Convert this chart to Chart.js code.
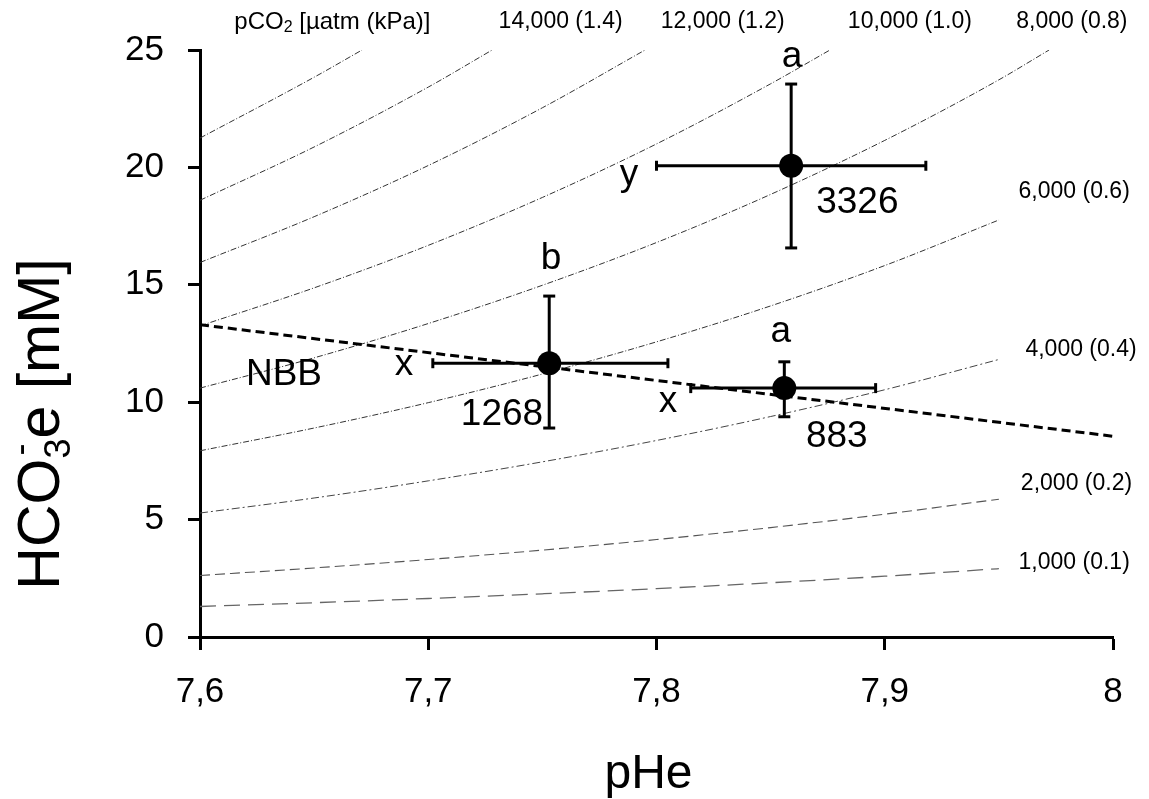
<!DOCTYPE html>
<html>
<head>
<meta charset="utf-8">
<script src="https://cdn.jsdelivr.net/npm/chart.js@4.4.1/dist/chart.umd.min.js"></script>
<style>
  html, body { margin: 0; padding: 0; background: #fff; }
  #wrap { width: 1149px; height: 799px; position: relative; }
</style>
</head>
<body>
<div id="wrap"><canvas id="c"></canvas></div>
<script>
// ---- data ----
const xTickLabels = ['7,6', '7,7', '7,8', '7,9', '8'];

// pCO2 isopleths (HCO3e mM vs pHe)
const phGrid  = [7.60, 7.65, 7.70, 7.75, 7.80, 7.85, 7.90, 7.95];
const iso1000 = [1.30, 1.46, 1.64, 1.84, 2.06, 2.31, 2.59, 2.91];
const iso2000 = [2.62, 2.94, 3.30, 3.70, 4.15, 4.66, 5.23, 5.87];
const iso4000 = [5.28, 5.92, 6.65, 7.46, 8.37, 9.39, 10.53, 11.82];
const iso6000 = [7.93, 8.90, 9.98, 11.20, 12.57, 14.10, 15.82, 17.76];
const iso8000pH  = [7.60, 7.65, 7.70, 7.75, 7.80, 7.85, 7.90, 7.95, 7.972];
const iso8000    = [10.60, 11.89, 13.35, 14.98, 16.80, 18.85, 21.15, 23.73, 25.0];
const iso10000pH = [7.60, 7.65, 7.70, 7.75, 7.80, 7.85, 7.876];
const iso10000   = [13.25, 14.87, 16.68, 18.72, 21.00, 23.56, 25.0];
const iso12000pH = [7.60, 7.65, 7.70, 7.75, 7.795];
const iso12000   = [15.95, 17.90, 20.08, 22.54, 25.0];
const iso14000pH = [7.60, 7.65, 7.70, 7.728];
const iso14000   = [18.60, 20.87, 23.42, 25.0];
const iso16000pH = [7.60, 7.65, 7.671];
const iso16000   = [21.25, 23.84, 25.0];

// non-bicarbonate buffer line
const nbbPH = [7.6, 8.0];
const nbb   = [13.3, 8.55];

// group means with error bars
const ptPH     = [7.753, 7.856, 7.859];
const ptHCO3   = [11.66, 10.60, 20.07];
const phLow    = [7.702, 7.815, 7.800];
const phHigh   = [7.805, 7.896, 7.918];
const hco3Low  = [8.90, 9.38, 16.57];
const hco3High = [14.52, 11.72, 23.55];

// ---- chart ----
const FONT = "'Liberation Sans', Arial, Helvetica, sans-serif";
Chart.defaults.font.family = FONT;
Chart.defaults.color = '#000';

function curve(phs, vals, dash, color, width) {
  return {
    data: phs.map((p, i) => ({ x: p, y: vals[i] })),
    borderColor: color, borderWidth: width, borderDash: dash,
    pointRadius: 0, cubicInterpolationMode: 'monotone', fill: false, order: 5
  };
}
const thin = [6, 2, 1, 2];
const datasets = [
  curve(phGrid, iso1000, [16, 8], '#666', 1.3),
  curve(phGrid, iso2000, [10, 5], '#555', 1.1),
  curve(phGrid, iso4000, [8, 3, 2, 3], '#444', 1),
  curve(phGrid, iso6000, thin, '#333', 1),
  curve(iso8000pH, iso8000, thin, '#333', 1),
  curve(iso10000pH, iso10000, thin, '#333', 1),
  curve(iso12000pH, iso12000, thin, '#333', 1),
  curve(iso14000pH, iso14000, thin, '#333', 1),
  curve(iso16000pH, iso16000, thin, '#333', 1),
  {
    data: nbbPH.map((p, i) => ({ x: p, y: nbb[i] })),
    borderColor: '#000', borderWidth: 3, borderDash: [9, 5],
    pointRadius: 0, fill: false, order: 3
  }
];
// error bars: horizontal (caps rotated 90) and vertical
ptPH.forEach((p, i) => {
  datasets.push({
    data: [{ x: phLow[i], y: ptHCO3[i] }, { x: phHigh[i], y: ptHCO3[i] }],
    borderColor: '#000', borderWidth: 3, pointStyle: 'line', pointRadius: 5,
    pointRotation: 90, pointBorderColor: '#000', pointBorderWidth: 3, order: 1
  });
  datasets.push({
    data: [{ x: p, y: hco3Low[i] }, { x: p, y: hco3High[i] }],
    borderColor: '#000', borderWidth: 3, pointStyle: 'line', pointRadius: 6,
    pointRotation: 0, pointBorderColor: '#000', pointBorderWidth: 3, order: 1
  });
});
datasets.push({
  data: ptPH.map((p, i) => ({ x: p, y: ptHCO3[i] })),
  showLine: false, pointRadius: 12, pointBackgroundColor: '#000',
  pointBorderColor: '#000', pointBorderWidth: 0, order: 0
});

// text placed in data units
const annotations = [
  ['a', 7.8594, 24.26], ['y', 7.788, 19.25], ['3326', 7.888, 18.06],
  ['b', 7.7538, 15.67], ['x', 7.6894, 11.16], ['NBB', 7.6368, 10.73],
  ['1268', 7.7323, 9.03], ['a', 7.8545, 12.56], ['x', 7.805, 9.58],
  ['883', 7.879, 8.09]
];
const isoLabels = [
  ['14,000 (1.4)', 7.758, 26.19], ['12,000 (1.2)', 7.829, 26.19],
  ['10,000 (1.0)', 7.911, 26.19], ['8,000 (0.8)', 7.982, 26.19],
  ['6,000 (0.6)', 7.983, 18.95], ['4,000 (0.4)', 7.986, 12.22],
  ['2,000 (0.2)', 7.984, 6.52], ['1,000 (0.1)', 7.983, 3.15]
];

const textPlugin = {
  id: 'texts',
  afterDraw(chart) {
    const { ctx, scales: { x, y }, chartArea } = chart;
    ctx.save();
    ctx.fillStyle = '#000';
    ctx.textAlign = 'center';
    ctx.textBaseline = 'alphabetic';
    ctx.font = '37px ' + FONT;
    annotations.forEach(([t, px, py]) => ctx.fillText(t, x.getPixelForValue(px), y.getPixelForValue(py)));

    ctx.textBaseline = 'middle';
    ctx.font = '23px ' + FONT;
    isoLabels.forEach(([t, px, py]) => ctx.fillText(t, x.getPixelForValue(px), y.getPixelForValue(py)));

    // pCO2 [µatm (kPa)] with subscript
    const cx = x.getPixelForValue(7.658), cy = y.getPixelForValue(26.19);
    const small = '16px ' + FONT, big = '24px ' + FONT;
    ctx.font = big; const w1 = ctx.measureText('pCO').width, w3 = ctx.measureText(' [µatm (kPa)]').width;
    ctx.font = small; const w2 = ctx.measureText('2').width;
    let sx = cx - (w1 + w2 + w3) / 2;
    ctx.textAlign = 'left';
    ctx.font = big; ctx.fillText('pCO', sx, cy); sx += w1;
    ctx.font = small; ctx.fillText('2', sx, cy + 6); sx += w2;
    ctx.font = big; ctx.fillText(' [µatm (kPa)]', sx, cy);

    // x title
    ctx.textAlign = 'center';
    ctx.textBaseline = 'alphabetic';
    ctx.font = '48px ' + FONT;
    ctx.fillText('pHe', (chartArea.left + chartArea.right) / 2 - 8, chartArea.bottom + 151);

    // y title: HCO3(-)e [mM], rotated
    ctx.translate(chartArea.left - 141, 424);
    ctx.rotate(-Math.PI / 2);
    const tb = '59px ' + FONT, ts = '36px ' + FONT;
    ctx.font = tb; const a1 = ctx.measureText('HCO').width, a3 = ctx.measureText('e [mM]').width;
    ctx.font = ts; const a2 = ctx.measureText('3').width;
    let tx = -(a1 + a2 + a3) / 2;
    ctx.textAlign = 'left';
    ctx.font = tb; ctx.fillText('HCO', tx, 0); tx += a1;
    ctx.font = ts; ctx.fillText('3', tx, 11); ctx.fillText('-', tx + 3, -27); tx += a2;
    ctx.font = tb; ctx.fillText('e [mM]', tx, 0);
    ctx.restore();
  }
};

new Chart(document.getElementById('c'), {
  type: 'line',
  data: { datasets },
  options: {
    responsive: true, maintainAspectRatio: false, animation: false,
    layout: { padding: { left: 0, top: 50, right: 36, bottom: 0 } },
    plugins: { legend: { display: false }, tooltip: { enabled: false } },
    scales: {
      x: {
        type: 'linear', min: 7.6, max: 8.0,
        afterFit: s => { s.height = 162; },
        ticks: {
          stepSize: 0.1, padding: 21, font: { size: 35 }, color: '#000',
          callback: v => xTickLabels[Math.round((v - 7.6) / 0.1)]
        },
        grid: { drawOnChartArea: false, drawTicks: true, tickLength: 13, tickWidth: 3, tickColor: '#000' },
        border: { display: true, color: '#000', width: 3 }
      },
      y: {
        min: 0, max: 25,
        afterFit: s => { s.width = 200; },
        ticks: { stepSize: 5, padding: 24, font: { size: 35 }, color: '#000' },
        grid: { drawOnChartArea: false, drawTicks: true, tickLength: 12, tickWidth: 3, tickColor: '#000' },
        border: { display: true, color: '#000', width: 3 }
      }
    }
  },
  plugins: [textPlugin]
});
</script>
</body>
</html>
